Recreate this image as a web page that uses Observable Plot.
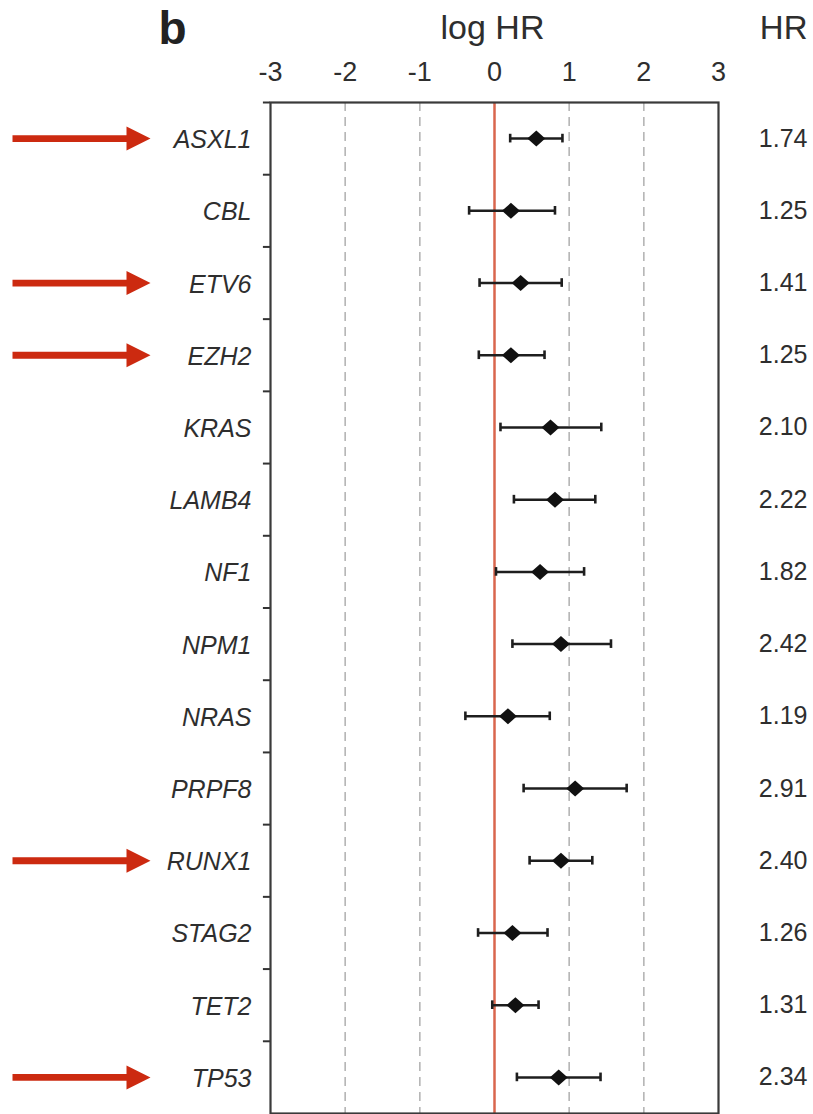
<!DOCTYPE html>
<html>
<head>
<meta charset="utf-8">
<script src="https://cdn.jsdelivr.net/npm/d3@7"></script>
<script src="https://cdn.jsdelivr.net/npm/@observablehq/plot@0.6"></script>
<style>
  html, body { margin: 0; padding: 0; background: #fff; }
  #chart svg { display: block; }
</style>
</head>
<body>
<div id="chart"></div>
<script>
// ---- data ----
const genes = ["ASXL1","CBL","ETV6","EZH2","KRAS","LAMB4","NF1","NPM1","NRAS","PRPF8","RUNX1","STAG2","TET2","TP53"];
const logHR = [0.56, 0.22, 0.35, 0.22, 0.75, 0.81, 0.61, 0.89, 0.18, 1.08, 0.89, 0.24, 0.28, 0.86];
const ciLow = [0.21, -0.34, -0.20, -0.21, 0.08, 0.26, 0.02, 0.24, -0.39, 0.39, 0.47, -0.22, -0.03, 0.30];
const ciHigh = [0.91, 0.81, 0.90, 0.67, 1.43, 1.35, 1.20, 1.56, 0.74, 1.77, 1.31, 0.71, 0.59, 1.42];
const hrLabels = ["1.74","1.25","1.41","1.25","2.10","2.22","1.82","2.42","1.19","2.91","2.40","1.26","1.31","2.34"];
const flagged = ["ASXL1","ETV6","EZH2","RUNX1","TP53"];
const xTicks = [-3, -2, -1, 0, 1, 2, 3];
const gridLines = [-2, -1, 1, 2];
const refLine = [0];
const panelLabel = "b";
const xTitle = "log HR";
const hrTitle = "HR";

// ---- derived table ----
const rows = genes.map((g, i) => ({gene: g, i, est: logHR[i], lo: ciLow[i], hi: ciHigh[i], hr: hrLabels[i]}));
const flaggedRows = rows.filter(r => flagged.includes(r.gene));
const boundaries = d3.range(-0.5, genes.length - 1, 1); // band boundaries (top + between rows)

const font = "Liberation Sans, Arial, Helvetica, sans-serif";
const textColor = "#2e2e2e";

const diamond = {
  draw(ctx, size) {
    const r = Math.sqrt(size / Math.PI);
    const w = r * 1.12;
    ctx.moveTo(0, -r); ctx.lineTo(w, 0); ctx.lineTo(0, r); ctx.lineTo(-w, 0); ctx.closePath();
  }
};
const arrowSym = {
  draw(ctx) {
    ctx.moveTo(0, 0);
    ctx.lineTo(-24, -12); ctx.lineTo(-24, -3.4); ctx.lineTo(-138, -3.4);
    ctx.lineTo(-138, 3.4); ctx.lineTo(-24, 3.4); ctx.lineTo(-24, 12);
    ctx.closePath();
  }
};

const chart = Plot.plot({
  width: 813,
  height: 1114,
  marginTop: 102,
  marginLeft: 270,
  marginRight: 95,
  marginBottom: 1,
  style: {fontFamily: font, background: "#fff", overflow: "visible"},
  x: {domain: [-3, 3], axis: null},
  y: {domain: [genes.length - 0.5, -0.5], axis: null},
  marks: [
    // dashed grid
    Plot.ruleX(gridLines, {stroke: "#b5b5b5", strokeWidth: 1.6, strokeDasharray: "9,6"}),
    // reference line at 0
    Plot.ruleX(refLine, {stroke: "#d9664e", strokeWidth: 2.5}),
    // left-axis band ticks
    Plot.ruleY(boundaries, {y: d => d, x1: -3.095, x2: -3, stroke: "#333", strokeWidth: 2}),
    // CI whiskers
    Plot.ruleY(rows, {y: "i", x1: "lo", x2: "hi", stroke: "#1e1e1e", strokeWidth: 2.5}),
    Plot.ruleX(rows, {x: "lo", y1: d => d.i - 0.06, y2: d => d.i + 0.06, stroke: "#1e1e1e", strokeWidth: 2.6}),
    Plot.ruleX(rows, {x: "hi", y1: d => d.i - 0.06, y2: d => d.i + 0.06, stroke: "#1e1e1e", strokeWidth: 2.6}),
    // point estimates
    Plot.dot(rows, {x: "est", y: "i", symbol: diamond, r: 8, fill: "#111", stroke: "none"}),
    // frame
    Plot.frame({stroke: "#3a3a3a", strokeWidth: 2.2}),
    // x tick labels (top)
    Plot.text(xTicks, {x: d => d, text: d => String(d), frameAnchor: "top", dy: -22, lineAnchor: "bottom",
      fontSize: 27, fill: textColor}),
    // gene labels
    Plot.text(rows, {y: "i", text: "gene", frameAnchor: "left", dx: -19, dy: 1.5, textAnchor: "end",
      fontSize: 25, fontStyle: "italic", fill: textColor}),
    // HR values
    Plot.text(rows, {y: "i", text: "hr", frameAnchor: "right", dx: 89, textAnchor: "end",
      fontSize: 25, fill: textColor}),
    // arrows for flagged genes
    Plot.dot(flaggedRows, {y: "i", frameAnchor: "left", dx: -120, symbol: arrowSym, r: 5, fill: "#cc2a10", stroke: "none"}),
    // headers
    Plot.text([xTitle], {text: d => d, frameAnchor: "top", dx: -2, dy: -64, lineAnchor: "bottom",
      fontSize: 34, fill: textColor}),
    Plot.text([hrTitle], {text: d => d, frameAnchor: "top-right", dx: 89, dy: -64, lineAnchor: "bottom",
      textAnchor: "end", fontSize: 33, fill: textColor}),
    Plot.text([panelLabel], {text: d => d, frameAnchor: "top-left", dx: -112, dy: -59, lineAnchor: "bottom",
      textAnchor: "start", fontSize: 46, fontWeight: "bold", fill: "#222"})
  ]
});
document.getElementById("chart").appendChild(chart);
</script>
</body>
</html>
